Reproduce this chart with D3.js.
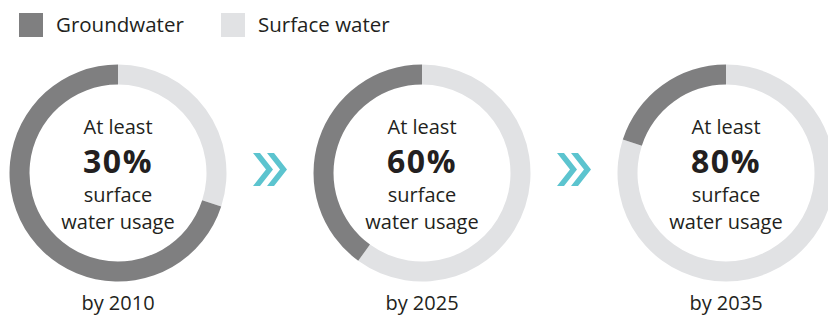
<!DOCTYPE html>
<html>
<head>
<meta charset="utf-8">
<script src="https://cdn.jsdelivr.net/npm/d3@7"></script>
<style>
	body { margin: 0; background: #fff; }
	svg text { font-family: "Open Sans", "Noto Sans", sans-serif; fill: #231f20; }
</style>
</head>
<body>
<svg id="chart"></svg>
<script>
(function(){

	// data
	var periods = ["by 2010", "by 2025", "by 2035"];
	var surfaceShare = [30, 60, 80];	// % surface water
	var groundShare = [70, 40, 20];		// % groundwater
	var seriesNames = ["Groundwater", "Surface water"];

	// config
	var svgWidth = 828, svgHeight = 318;
	var groundColor = "#7f7f80";
	var surfaceColor = "#e1e2e4";
	var arrowColor = "#5cc4cf";
	var outerR = 108.5, innerR = 88.5;
	var centerY = 173;

	var svg = d3.select("#chart")
		.attr("width", svgWidth)
		.attr("height", svgHeight);

	var x = d3.scalePoint()
		.domain(periods)
		.range([118, 726]);

	var color = d3.scaleOrdinal()
		.domain(seriesNames)
		.range([groundColor, surfaceColor]);

	// legend
	var legend = svg.append("g").attr("class", "legend");
	var legendX = [19, 221];
	seriesNames.forEach(function(name, i){
		legend.append("rect")
			.attr("x", legendX[i])
			.attr("y", 13)
			.attr("width", 24)
			.attr("height", 24)
			.attr("fill", color(name));
		legend.append("text")
			.attr("x", legendX[i] + 37)
			.attr("y", 32)
			.attr("font-size", "20.5px")
			.text(name);
	});

	var pie = d3.pie().sort(null).value(function(d){ return d.value; });
	var arc = d3.arc().innerRadius(innerR).outerRadius(outerR);

	var donuts = svg.selectAll(".donut")
		.data(periods)
		.enter()
		.append("g")
		.attr("class", "donut")
		.attr("transform", function(d){ return "translate(" + x(d) + "," + centerY + ")"; });

	donuts.selectAll("path")
		.data(function(d, i){
			return pie([
				{name: "Surface water", value: surfaceShare[i]},
				{name: "Groundwater", value: groundShare[i]}
			]);
		})
		.enter()
		.append("path")
		.attr("d", arc)
		.attr("fill", function(d){ return color(d.data.name); });

	// centre labels
	donuts.append("text")
		.attr("text-anchor", "middle")
		.attr("y", -39)
		.attr("font-size", "20px")
		.text("At least");
	donuts.append("text")
		.attr("text-anchor", "middle")
		.attr("y", 0)
		.attr("font-size", "32px")
		.attr("font-weight", "bold")
		.attr("letter-spacing", "1.5px")
		.text(function(d, i){ return surfaceShare[i] + "%"; });
	donuts.append("text")
		.attr("text-anchor", "middle")
		.attr("y", 29)
		.attr("font-size", "20px")
		.text("surface");
	donuts.append("text")
		.attr("text-anchor", "middle")
		.attr("y", 56)
		.attr("font-size", "20px")
		.text("water usage");

	// period labels
	donuts.append("text")
		.attr("text-anchor", "middle")
		.attr("y", 137)
		.attr("font-size", "20px")
		.text(function(d){ return d; });

	// double chevrons between donuts
	var chevH = 33, chevW = 20, chevT = 7;
	function chevron(x0, y0){
		return "M" + x0 + "," + y0 +
			"L" + (x0 + chevT) + "," + y0 +
			"L" + (x0 + chevW) + "," + (y0 + chevH/2) +
			"L" + (x0 + chevT) + "," + (y0 + chevH) +
			"L" + x0 + "," + (y0 + chevH) +
			"L" + (x0 + chevW - chevT) + "," + (y0 + chevH/2) + "Z";
	}
	for(var i = 0; i < periods.length - 1; i++){
		var mid = (x(periods[i]) + x(periods[i + 1])) / 2;
		var startX = mid - 17;
		[0, 14].forEach(function(off){
			svg.append("path")
				.attr("d", chevron(startX + off, centerY - 20))
				.attr("fill", arrowColor);
		});
	}

})();
</script>
</body>
</html>
